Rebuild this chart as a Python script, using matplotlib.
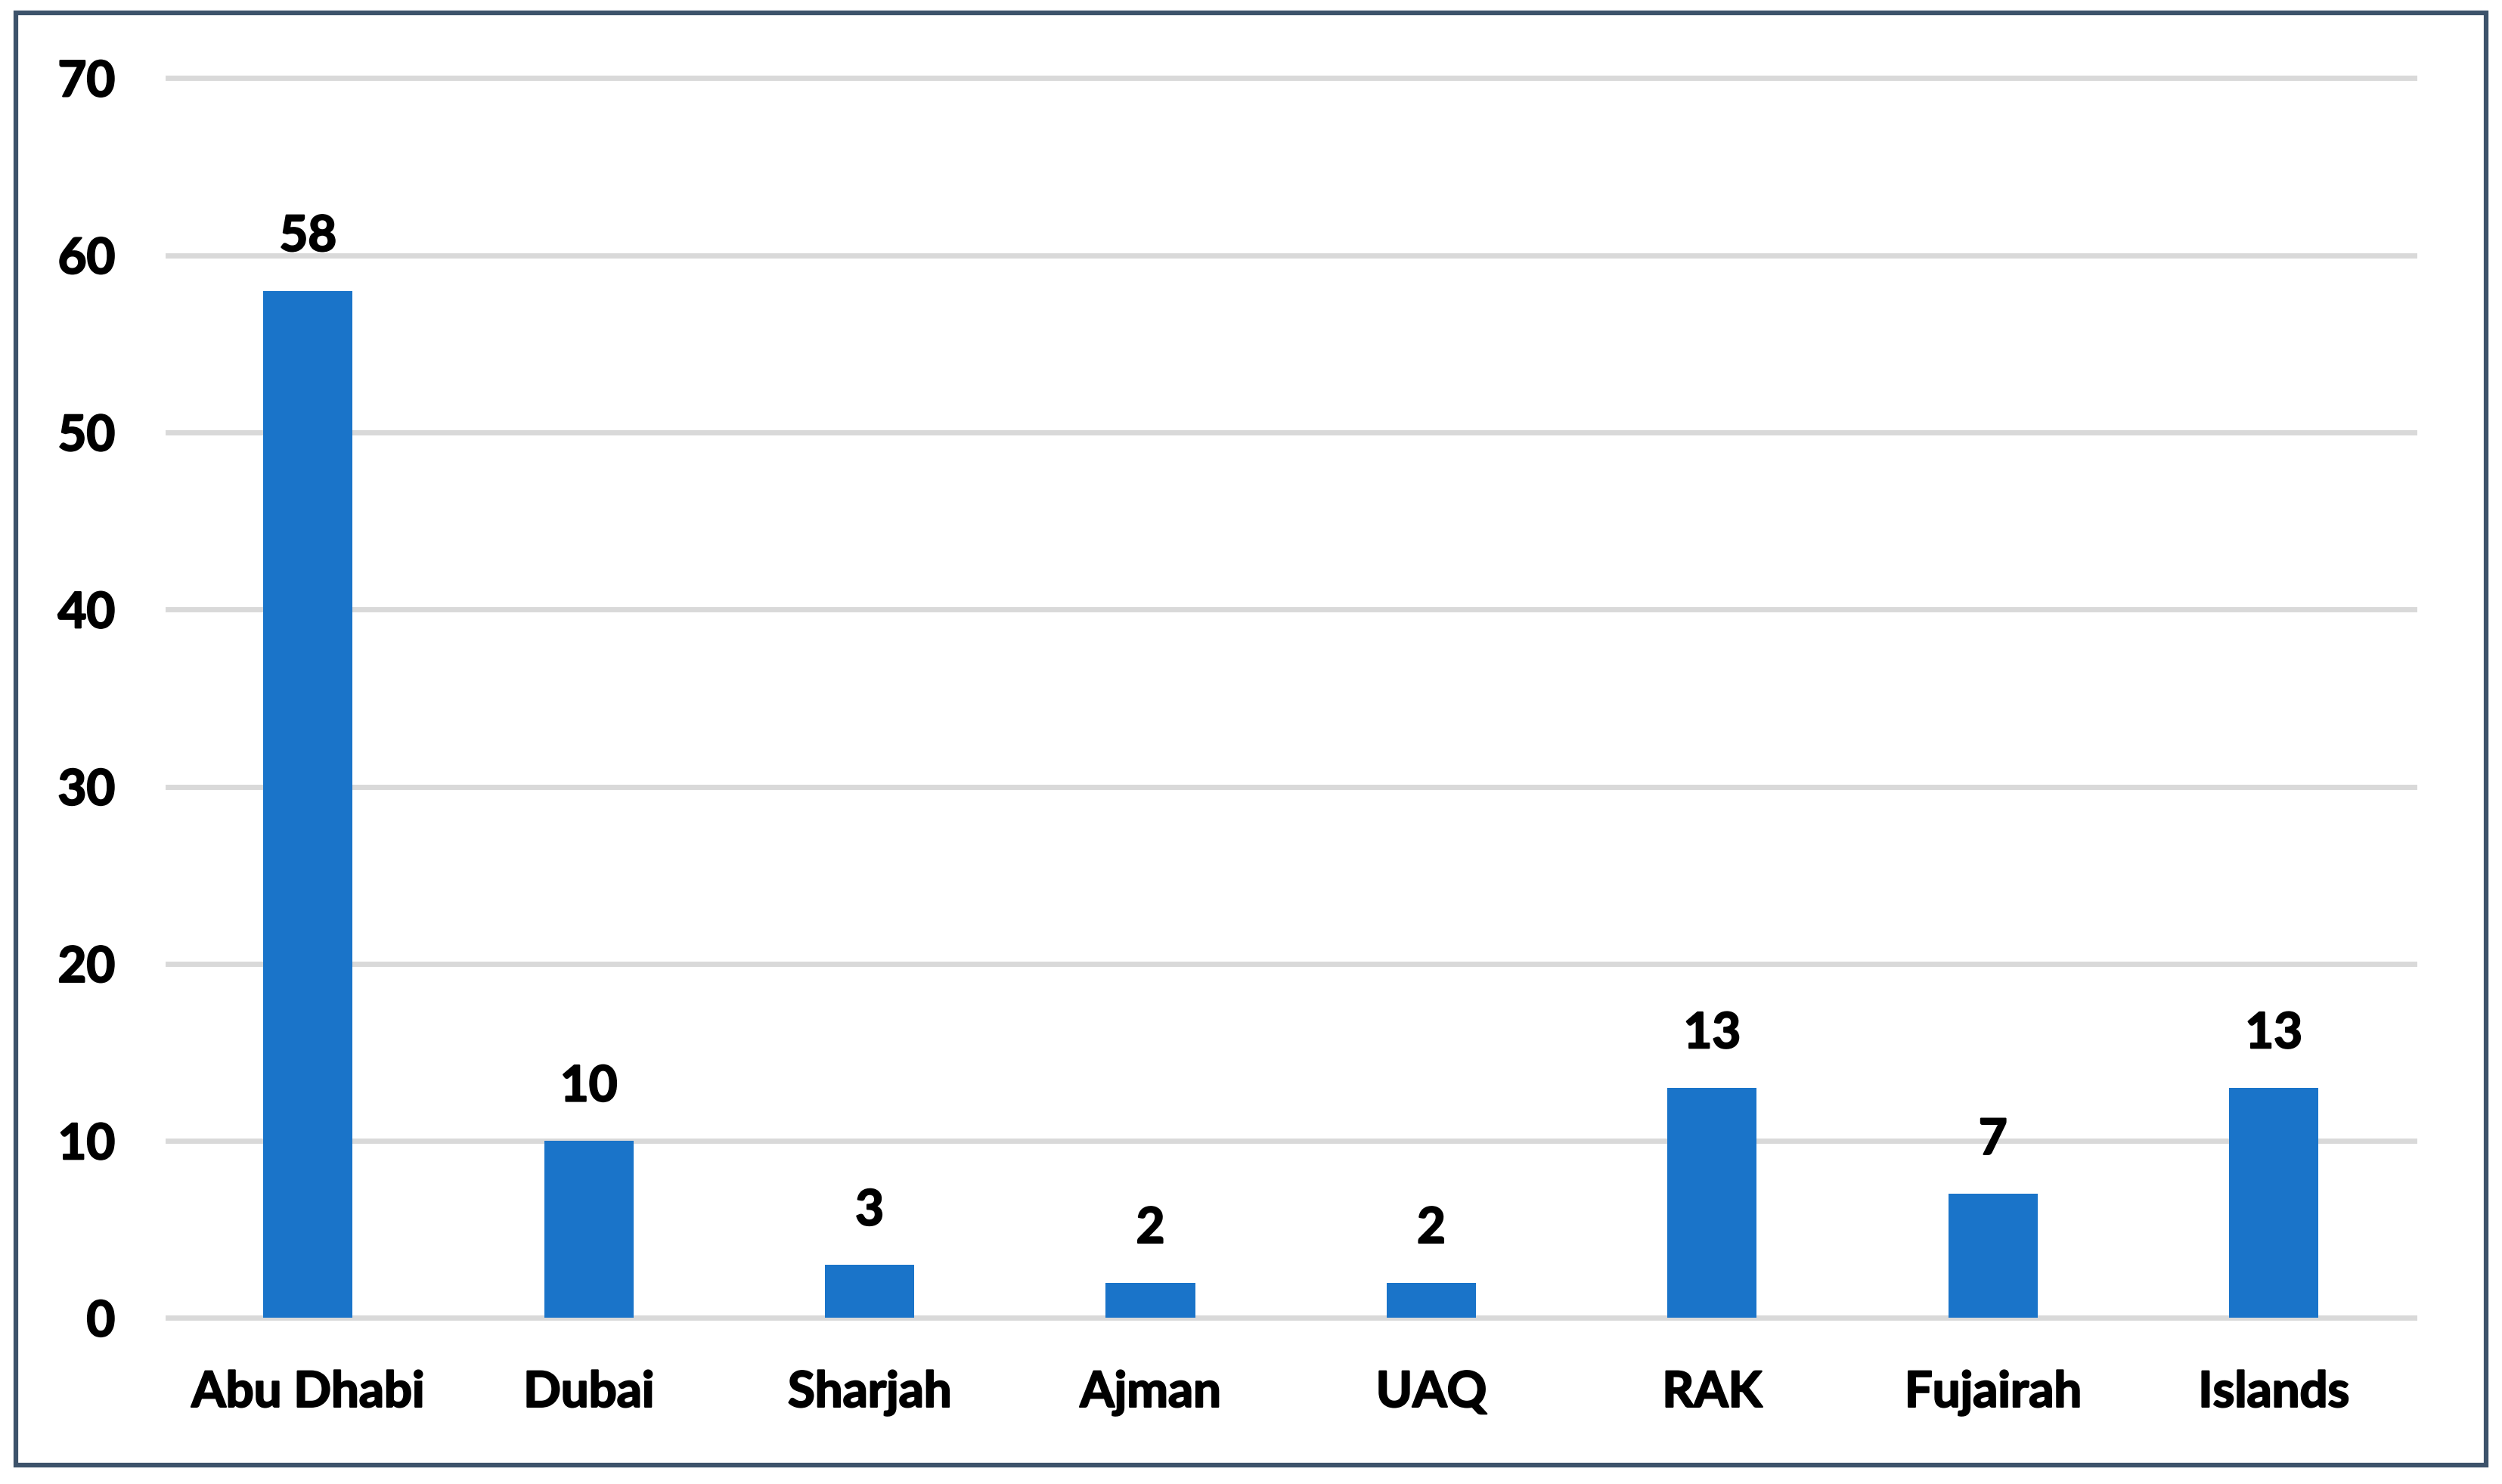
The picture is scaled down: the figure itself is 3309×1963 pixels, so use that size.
import matplotlib
matplotlib.use("Agg")
import matplotlib.pyplot as plt
from matplotlib.patches import Rectangle
import matplotlib.patheffects as pe

categories = ["Abu Dhabi", "Dubai", "Sharjah", "Ajman", "UAQ", "RAK", "Fujairah", "Islands"]
values = [58, 10, 3, 2, 2, 13, 7, 13]
yticks = [0, 10, 20, 30, 40, 50, 60, 70]

plt.rcParams['font.family'] = ['Lato', 'DejaVu Sans']
plt.rcParams['font.weight'] = 'bold'

stroke = [pe.withStroke(linewidth=1.6, foreground='black')]

fig = plt.figure(figsize=(33.09, 19.63), dpi=100)
ax = fig.add_axes([105/1568, (930-826)/930, (1513-105)/1568, (826-49)/930])

x = list(range(len(categories)))
bars = ax.bar(x, values, width=0.318, color='#1a74c9', zorder=3)
for xi, v in zip(x, values):
    ax.annotate(str(v), (xi, v), xytext=(0, 30), textcoords='offset points',
                ha='center', va='bottom', fontsize=47, fontweight='bold', color='black',
                path_effects=stroke)

ax.set_xlim(-0.5, len(categories) - 0.5)
ax.set_ylim(0, 70)
ax.set_yticks(yticks)
ax.set_yticklabels([str(t) for t in yticks])
ax.set_xticks(x)
ax.set_xticklabels(categories)
ax.tick_params(axis='both', length=0, labelsize=47, colors='black')
ax.tick_params(axis='y', pad=50)
ax.tick_params(axis='x', pad=50)
for lab in ax.get_xticklabels() + ax.get_yticklabels():
    lab.set_fontweight('bold')
    lab.set_path_effects(stroke)
for s in ax.spines.values():
    s.set_visible(False)
ax.yaxis.grid(True, color='#d9d9d9', linewidth=5, zorder=0)
ax.set_axisbelow(True)
for line in ax.get_ygridlines():
    line.set_clip_on(False)

fig.patches.append(Rectangle((10/1568, (930-918)/930), (1558-10)/1568, (918-8)/930,
                             transform=fig.transFigure, fill=False,
                             edgecolor='#3d536b', linewidth=4.5))

fig.savefig("out.png", dpi=100, facecolor='white')
